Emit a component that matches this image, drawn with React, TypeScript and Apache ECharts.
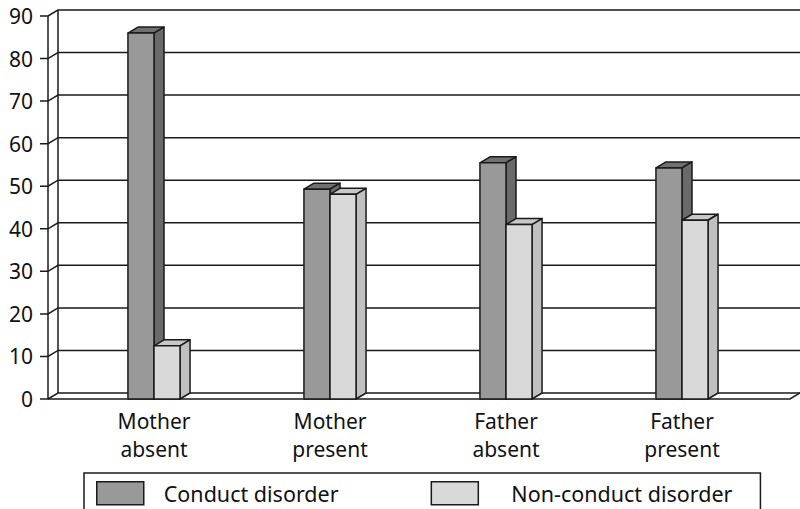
import React, { useEffect, useRef } from "react";
import * as echarts from "echarts";

const categories = ["Mother\nabsent", "Mother\npresent", "Father\nabsent", "Father\npresent"];
const seriesNames = ["Conduct disorder", "Non-conduct disorder"];
const conductValues = [86, 49.3, 55.5, 54.3];
const nonConductValues = [12.5, 48.1, 41, 42];
const yTicks = [0, 10, 20, 30, 40, 50, 60, 70, 80, 90];

const FONT = "'Noto Sans', 'DejaVu Sans', sans-serif";
const DX = 10;
const DY = 6;
const STROKE = "#1a1a1a";
const LW = 1.5;

const makeBarRender = (side: number, cFront: string, cTop: string, cSide: string) =>
  (params: any, api: any) => {
    const cat = api.value(0);
    const v = api.value(1);
    const base = api.coord([cat, 0]);
    const tp = api.coord([cat, v]);
    const band = api.size([1, 0])[0];
    const w = band * 0.148;
    const x0 = side === 0 ? base[0] - w : base[0];
    const x1 = x0 + w;
    const yb = base[1];
    const yt = tp[1];
    const st = (fill: string) => ({ fill, stroke: STROKE, lineWidth: LW, lineJoin: "round" });
    return {
      type: "group",
      children: [
        { type: "polygon", shape: { points: [[x0, yt], [x0 + DX, yt - DY], [x1 + DX, yt - DY], [x1, yt]] }, style: st(cTop) },
        { type: "polygon", shape: { points: [[x1, yt], [x1 + DX, yt - DY], [x1 + DX, yb - DY], [x1, yb]] }, style: st(cSide) },
        { type: "polygon", shape: { points: [[x0, yt], [x1, yt], [x1, yb], [x0, yb]] }, style: st(cFront) },
      ],
    };
  };

const renderWalls = (params: any, api: any) => {
  const v = api.value(1);
  const cs = params.coordSys;
  const y = api.coord([0, v])[1];
  const fx = cs.x - 18;
  const bx = fx + DX;
  const right = cs.x + cs.width + 30;
  const floorRight = cs.x + cs.width + 20;
  const ls = { stroke: STROKE, lineWidth: LW, fill: null };
  const children: any[] = [
    { type: "polyline", shape: { points: [[fx - 8, y], [fx, y], [bx, y - DY], [right, y - DY]] }, style: ls },
  ];
  if (v === 0) {
    const yTop = api.coord([0, yTicks[yTicks.length - 1]])[1];
    children.push({ type: "polyline", shape: { points: [[fx, y], [floorRight, y], [right, y - DY]] }, style: ls });
    children.push({ type: "line", shape: { x1: fx, y1: y, x2: fx, y2: yTop }, style: ls });
    children.push({ type: "line", shape: { x1: bx, y1: y - DY, x2: bx, y2: yTop - DY }, style: ls });
  }
  return { type: "group", children };
};

export default function App() {
  const ref = useRef<HTMLDivElement>(null);
  useEffect(() => {
    if (!ref.current) return;
    const chart = echarts.init(ref.current, undefined, { renderer: "svg" });
    chart.setOption({
      animation: false,
      backgroundColor: "#ffffff",
      textStyle: { fontFamily: FONT },
      grid: { left: 66, right: 30, top: 16, bottom: 110, containLabel: false },
      legend: {
        data: [
          { name: seriesNames[0], textStyle: { padding: [0, 0, 0, 15] } },
          { name: seriesNames[1], textStyle: { padding: [0, 0, 0, 28] } },
        ],
        left: 84,
        top: 473,
        padding: [8, 28, 8, 12],
        borderColor: STROKE,
        borderWidth: 1.5,
        itemWidth: 47,
        itemHeight: 23,
        itemGap: 92,
        icon: "rect",
        itemStyle: { borderColor: STROKE, borderWidth: 1.5 },
        textStyle: { fontSize: 21.5, color: "#111", fontFamily: FONT },
        selectedMode: false,
      },
      xAxis: {
        type: "category",
        data: categories,
        axisLine: { show: false },
        axisTick: { show: false },
        axisLabel: { fontSize: 21, lineHeight: 28, color: "#111", margin: 8, fontFamily: FONT },
        splitLine: { show: false },
      },
      yAxis: {
        type: "value",
        min: 0,
        max: 90,
        interval: 10,
        axisLine: { show: false },
        axisTick: { show: false },
        splitLine: { show: false },
        axisLabel: { fontSize: 21, color: "#111", margin: 33, fontFamily: FONT },
      },
      series: [
        {
          type: "custom",
          name: "walls",
          silent: true,
          clip: false,
          z: 1,
          data: yTicks.map((v) => [0, v]),
          encode: { x: 0, y: 1 },
          renderItem: renderWalls,
        },
        {
          type: "custom",
          name: seriesNames[0],
          clip: false,
          z: 2,
          itemStyle: { color: "#999999" },
          data: conductValues.map((v, i) => [i, v]),
          encode: { x: 0, y: 1 },
          renderItem: makeBarRender(0, "#999999", "#707070", "#6a6a6a"),
        },
        {
          type: "custom",
          name: seriesNames[1],
          clip: false,
          z: 3,
          itemStyle: { color: "#d9d9d9" },
          data: nonConductValues.map((v, i) => [i, v]),
          encode: { x: 0, y: 1 },
          renderItem: makeBarRender(1, "#d9d9d9", "#c8c8c8", "#c0c0c0"),
        },
      ],
    });
    return () => chart.dispose();
  }, []);
  return <div ref={ref} style={{ position: "fixed", left: 0, top: 0, width: 800, height: 509 }} />;
}
